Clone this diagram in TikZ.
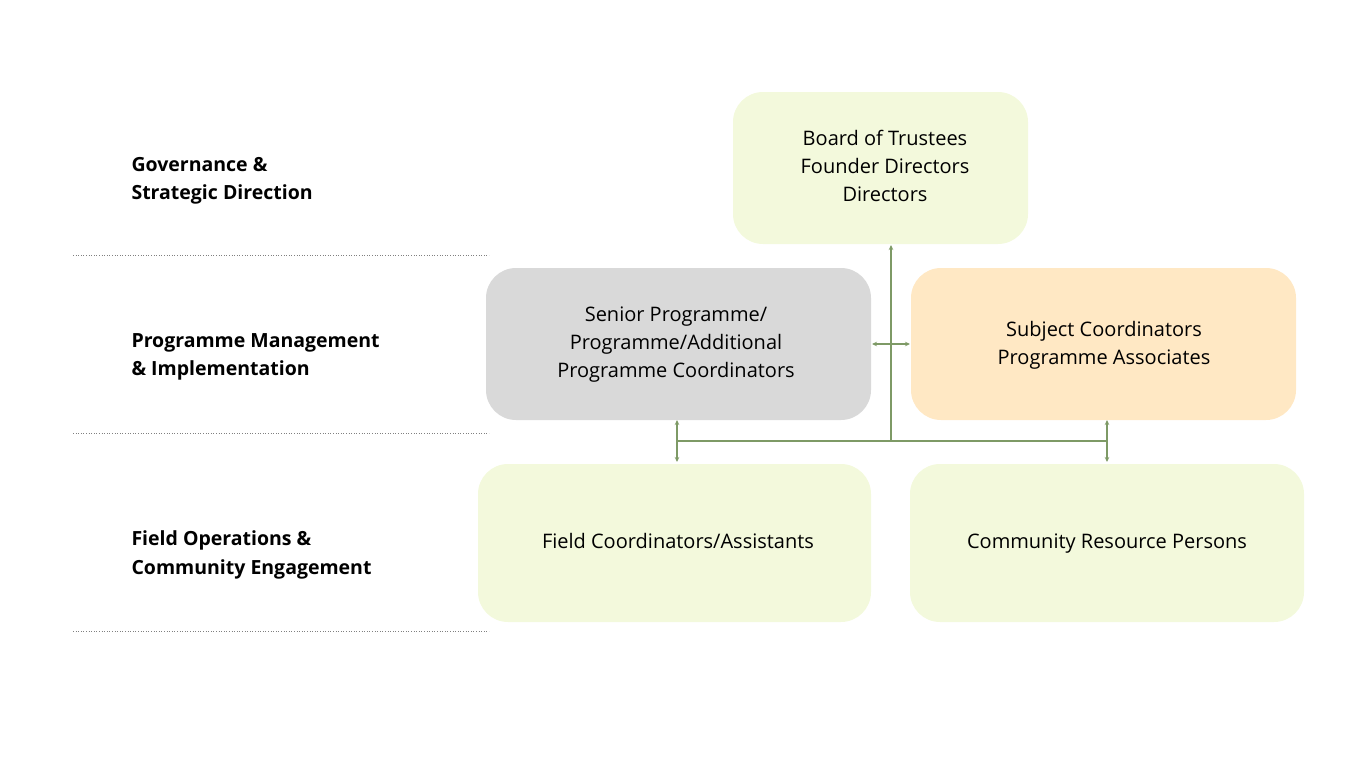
\documentclass[tikz,border=0pt]{standalone}
\usepackage{fontspec}
\setmainfont{Open Sans}
\usetikzlibrary{arrows.meta}
\definecolor{lg}{HTML}{F3F9DC}
\definecolor{gy}{HTML}{D9D9D9}
\definecolor{or}{HTML}{FFE8C4}
\definecolor{ln}{HTML}{7E9A66}
\begin{document}
\begin{tikzpicture}[x=1pt,y=-1pt,
 box/.style={draw=none,align=center,font=\fontsize{20}{28}\selectfont,text=black,inner sep=0pt,text depth=0pt},
 lab/.style={anchor=west,align=left,font=\fontsize{19.5}{28.5}\selectfont\bfseries},
 sep/.style={gray,line width=0.6pt,dotted},
 con/.style={ln,line width=1.2pt},
 arr/.style={con,-{Stealth[length=5pt,width=4.5pt]}}]
\useasboundingbox (0,0) rectangle (1366,769);
\fill[lg,rounded corners=30pt] (733,92) rectangle (1028,244);
\node[box] (board) at (885,166) {Board of Trustees\\Founder Directors\\Directors};
\fill[gy,rounded corners=30pt] (486,268) rectangle (871,420);
\node[box] (senior) at (676,342) {Senior Programme/\\Programme/Additional\\Programme Coordinators};
\fill[or,rounded corners=30pt] (911,268) rectangle (1296,420);
\node[box] (subj) at (1104,343) {Subject Coordinators\\Programme Associates};
\fill[lg,rounded corners=30pt] (478,464) rectangle (871,622);
\node[box] (field) at (678,541) {Field Coordinators/Assistants};
\fill[lg,rounded corners=30pt] (910,464) rectangle (1304,622);
\node[box] (comm) at (1107,541) {Community Resource Persons};
\node[lab] (l1) at (128,181) {Governance \&\\Strategic Direction};
\node[lab] (l2) at (128,357) {Programme Management\\\& Implementation};
\node[lab] (l3) at (128,555) {Field Operations \&\\Community Engagement};
\draw[sep] (73,255) -- (489,255);
\draw[sep] (73,433) -- (489,433);
\draw[sep] (73,631) -- (489,631);
\coordinate (hub) at (891,441);
\coordinate (bt) at (891,245);
\coordinate (hl) at (677,441);
\coordinate (hr) at (1107,441);
\coordinate (ml) at (872,344);
\coordinate (mr) at (910,344);
\draw[arr] (hub) -- (bt);
\draw[con] (hl) -- (hr);
\draw[arr] (891,344) -- (ml);
\draw[arr] (891,344) -- (mr);
\draw[arr] (hl) -- (677,420);
\draw[arr] (hl) -- (677,462);
\draw[arr] (hr) -- (1107,420);
\draw[arr] (hr) -- (1107,462);
\end{tikzpicture}
\end{document}
